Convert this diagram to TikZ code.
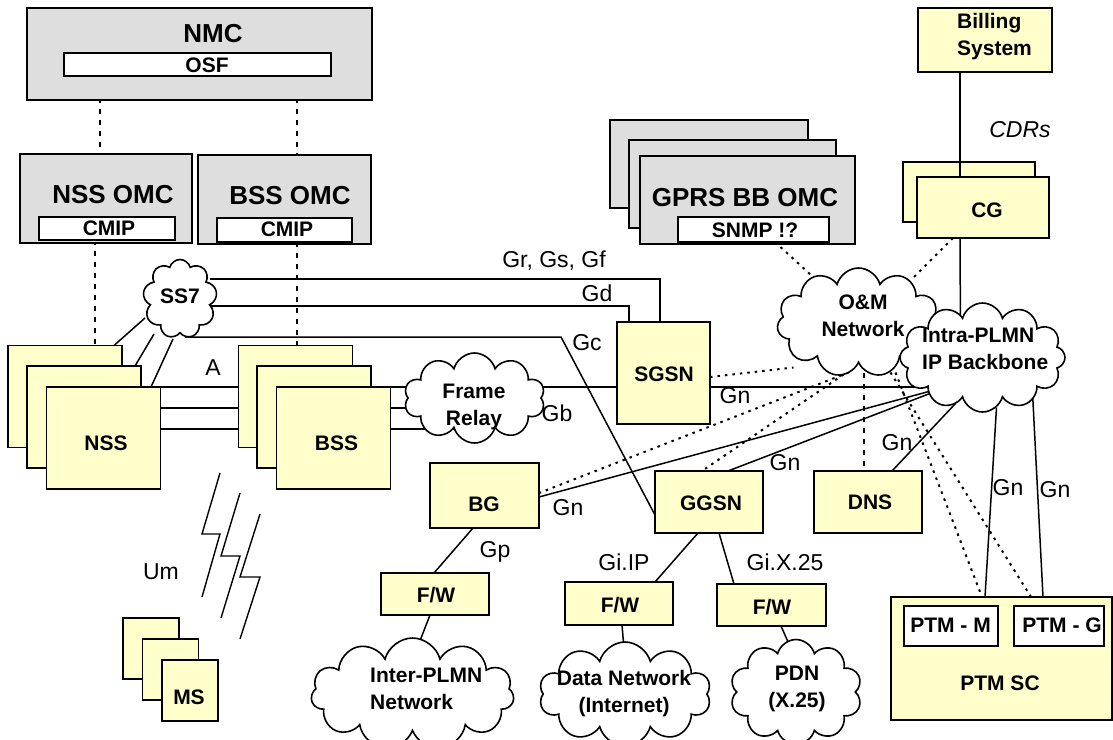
\documentclass[tikz,border=0pt]{standalone}
\usepackage{fontspec}
\setmainfont{Liberation Sans}
\usetikzlibrary{shapes.symbols,calc,backgrounds}
\definecolor{yel}{HTML}{FFFFCC}
\definecolor{gry}{HTML}{DEDEDE}
\begin{document}
\begin{tikzpicture}[x=1pt,y=-1pt,
  ybox/.style={draw,fill=yel,line width=1.9pt,inner sep=0pt,outer sep=0pt},
  gbox/.style={draw,fill=gry,line width=1.9pt,inner sep=0pt,outer sep=0pt},
  wbox/.style={draw,fill=white,line width=1.9pt,inner sep=0pt,outer sep=0pt},
  cld/.style={cloud,cloud puffs=11,cloud ignores aspect,draw,fill=white,line width=1.6pt,inner sep=0pt,outer sep=0pt},
  bt/.style={font=\fontsize{21}{27}\selectfont\bfseries,inner sep=0pt},
  ct/.style={font=\fontsize{21}{24}\selectfont\bfseries,inner sep=0pt},
  big/.style={font=\fontsize{26}{30}\selectfont\bfseries,inner sep=0pt},
  lb/.style={font=\fontsize{23}{27}\selectfont,inner sep=0pt},
  conn/.style={line width=1.5pt},
  dotl/.style={line width=2pt,dash pattern=on 2.5pt off 5pt},
  dashl/.style={line width=1.6pt,dash pattern=on 5pt off 6pt},
]
\useasboundingbox (0,0) rectangle (1113,739);
\begin{pgfonlayer}{background}
\fill[white] (0,0) rectangle (1113,739);
\end{pgfonlayer}

% ---------- management boxes ----------
\node[gbox,minimum width=345,minimum height=92] (nmc) at (199.5,54) {};
\node[big] (tnmc) at (213,34) {NMC};
\node[wbox,minimum width=267,minimum height=23] (osf) at (197.5,64.5) {};
\node[ct] (tosf) at (207,65) {OSF};

\node[gbox,minimum width=172,minimum height=89] (nssomc) at (106,198.5) {};
\node[big] (tnssomc) at (113,195) {NSS OMC};
\node[wbox,minimum width=136,minimum height=23] (cmip1) at (107,228.5) {};
\node[ct] (tcmip1) at (109,228) {CMIP};

\node[gbox,minimum width=173,minimum height=89] (bssomc) at (284.5,199.5) {};
\node[big] (tbssomc) at (290,196) {BSS OMC};
\node[wbox,minimum width=135,minimum height=24] (cmip2) at (284.5,230) {};
\node[ct] (tcmip2) at (287,229) {CMIP};

\node[gbox,minimum width=198,minimum height=88] (omc1) at (709,164) {};
\node[gbox,minimum width=207,minimum height=88] (omc2) at (732.5,184) {};
\node[gbox,minimum width=215,minimum height=88] (omc3) at (747.5,200) {};
\node[big] (tomc) at (745,198) {GPRS BB OMC};
\node[wbox,minimum width=151,minimum height=25] (snmp) at (753.5,229.5) {};
\node[ct] (tsnmp) at (755,230) {SNMP !?};

\node[ybox,minimum width=134,minimum height=64] (billing) at (985,40) {};
\node[bt,align=left,anchor=west] (tbilling) at (957,37) {Billing\\System};
\node[ybox,minimum width=132,minimum height=60] (cg1) at (969,192) {};
\node[ybox,minimum width=132,minimum height=61] (cg2) at (983,207.5) {};
\node[bt] (tcg) at (987,210) {CG};
\node[lb,font=\fontsize{23}{27}\selectfont\itshape] (tcdr) at (1020,130) {CDRs};

% ---------- NSS / BSS ----------
\node[ybox,minimum width=114,minimum height=102] (nss1) at (65,396.5) {};
\node[ybox,minimum width=114,minimum height=102] (nss2) at (84,417) {};
\node[ybox,minimum width=114,minimum height=102] (nss3) at (103.5,438) {};
\node[bt] (tnss) at (106,443) {NSS};

\node[ybox,minimum width=114,minimum height=102] (bss1) at (295.5,396.5) {};
\node[ybox,minimum width=114,minimum height=102] (bss2) at (314,417) {};
\node[ybox,minimum width=114,minimum height=102] (bss3) at (333.5,438) {};
\node[bt] (tbss) at (336.5,443) {BSS};

% ---------- GPRS nodes ----------
\node[ybox,minimum width=93,minimum height=102] (sgsn) at (663.5,373) {};
\node[bt] (tsgsn) at (664,374) {SGSN};
\node[ybox,minimum width=109,minimum height=65] (bg) at (484.5,495.5) {};
\node[bt] (tbg) at (484,504) {BG};
\node[ybox,minimum width=108,minimum height=62] (ggsn) at (709,502) {};
\node[bt] (tggsn) at (711,503) {GGSN};
\node[ybox,minimum width=108,minimum height=62] (dns) at (868,502) {};
\node[bt] (tdns) at (870,502) {DNS};

\node[ybox,minimum width=108,minimum height=42] (fw1) at (435,594) {};
\node[bt] (tfw1) at (436,595) {F/W};
\node[ybox,minimum width=108,minimum height=43] (fw2) at (619,603.5) {};
\node[bt] (tfw2) at (620,605) {F/W};
\node[ybox,minimum width=109,minimum height=42] (fw3) at (771.5,605) {};
\node[bt] (tfw3) at (772,607) {F/W};

\node[ybox,minimum width=221,minimum height=123] (ptmsc) at (1001.5,658.5) {};
\node[bt] (tptmsc) at (1000,683) {PTM SC};
\node[wbox,minimum width=94,minimum height=40] (ptmm) at (951,626) {};
\node[bt] (tptmm) at (950.5,625) {PTM - M};
\node[wbox,minimum width=90,minimum height=40] (ptmg) at (1059,626) {};
\node[bt] (tptmg) at (1062,625) {PTM - G};

\node[ybox,minimum width=56,minimum height=61] (ms1) at (151,648.5) {};
\node[ybox,minimum width=56,minimum height=61] (ms2) at (170.5,669.5) {};
\node[ybox,minimum width=56,minimum height=61] (ms3) at (190,690.5) {};
\node[bt] (tms) at (189,697) {MS};

% ---------- clouds ----------
\node[cld,cloud puffs=9,minimum width=74,minimum height=79] (ss7) at (180,299) {};
\node[bt] (tss7) at (180,296) {SS7};
\node[cld,cloud puffs=10,minimum width=141,minimum height=90] (fr) at (474.5,398) {};
\node[bt,align=center] (tfr) at (474,406.5) {Frame\\Relay};
\node[cld,minimum width=163,minimum height=109] (om) at (858.5,322.5) {};
\node[bt,align=center] (tom) at (863,316) {O\&M\\Network};
\node[cld,cloud puffs=12,minimum width=165,minimum height=109] (ip) at (982.5,357.5) {};
\node[bt,align=left,anchor=west] (tip) at (922,348.5) {Intra-PLMN\\IP Backbone};
\node[cld,minimum width=203,minimum height=112] (inter) at (412.5,694) {};
\node[bt,align=left,anchor=west] (tinter) at (370,688.5) {Inter-PLMN\\Network};
\node[cld,cloud puffs=10,minimum width=172,minimum height=104] (data) at (625,694) {};
\node[bt,align=center] (tdata) at (624,693.5) {Data Network\\(Internet)};
\node[cld,cloud puffs=10,minimum width=132,minimum height=105] (pdn) at (796,692) {};
\node[bt,align=center] (tpdn) at (797,689) {PDN\\(X.25)};

% ---------- interface labels ----------
\node[lb] (lgr) at (554,261) {Gr, Gs, Gf};
\node[lb] (lgd) at (597,293) {Gd};
\node[lb] (lgc) at (587,343) {Gc};
\node[lb] (la) at (213,368) {A};
\node[lb] (lgb) at (557,413) {Gb};
\node[lb] (lgn1) at (735,396) {Gn};
\node[lb] (lgn2) at (568,508) {Gn};
\node[lb] (lgn3) at (785,463) {Gn};
\node[lb] (lgn4) at (897,443) {Gn};
\node[lb] (lgn5) at (1008,488) {Gn};
\node[lb] (lgn6) at (1055,490) {Gn};
\node[lb] (lgp) at (495,552) {Gp};
\node[lb] (lgiip) at (624,562) {Gi.IP};
\node[lb] (lgix) at (785,562) {Gi.X.25};
\node[lb] (lum) at (161,572) {Um};

% ---------- radio link ----------
\draw[line width=1.4pt] (220,473) -- (202,534) -- (220,534) -- (202,597);
\draw[line width=1.4pt] (240,493) -- (221,556) -- (240,556) -- (221,618);
\draw[line width=1.4pt] (260,514) -- (240,577) -- (260,577) -- (240,639);

% Billing to CG (drawn over the rear CG box)
\draw[conn] (billing.south -| 960,0) -- (cg2.north -| 960,0);

% ---------- connectors ----------
\begin{pgfonlayer}{background}
% management dashed links
\draw[dashl] (osf.south -| 100,0) -- (nssomc.north -| 100,0);
\draw[dashl] (osf.south -| 297,0) -- (bssomc.north -| 297,0);
\draw[dashl] (cmip1.south -| 95,0) -- (nss1.north -| 95,0);
\draw[dashl] (cmip2.south -| 297,0) -- (bss1.north -| 297,0);
% SS7 to NSS
\draw[conn] ($(ss7)+(-35,19)$) -- (nss1.north -| 114,0);
\draw[conn] ($(ss7)+(-26,35)$) -- (nss2.north -| 135,0);
\draw[conn] ($(ss7)+(-7,40)$) -- (nss3.north -| 151,0);
% SS7 to SGSN / GGSN
\draw[conn] ($(ss7)+(30,-20)$) -| (sgsn.north -| 660,0);
\draw[conn] ($(ss7)+(30,7)$) -| (sgsn.north -| 629,0);
\draw[conn] ($(ss7)+(5,38)$) -- (561,337) -- (ggsn.west |- 0,515);
% A interface
\draw[conn] (nss3.north east) -- (bss1.west |- nss3.north);
\draw[conn] (nss3.east |- 0,408) -- (bss2.west |- 0,408);
\draw[conn] (nss3.east |- 0,429) -- (bss3.west |- 0,429);
% Gb
\draw[conn] (bss3.north east) -- (fr.center |- bss3.north);
\draw[conn] (bss3.east |- 0,408) -- (fr.center |- 0,408);
\draw[conn] (bss3.east |- 0,429) -- (fr.center |- 0,429);
\draw[conn] (fr.center |- 0,387) -- (sgsn.west |- 0,387);
% Gn links
\draw[conn] (sgsn.east |- 0,387) -- (ip.center |- 0,387);
\draw[conn] ($(ip)+(-50,33)$) -- (bg.east |- 0,497);
\draw[conn] ($(ip)+(-50,35)$) -- (ggsn.north -| 728,0);
\draw[conn] ($(ip)+(-27,46)$) -- (dns.north -| 892,0);
\draw[conn] ($(ip)+(14,50)$) -- (ptmsc.north -| 985,0);
\draw[conn] ($(ip)+(50,35)$) -- (ptmsc.north -| 1043,0);
\draw[conn] (cg2.south -| 960,0) -- ($(ip)+(-22,-20)$);
% Gp / Gi
\draw[conn] (bg.south -| 473,0) -- (fw1.north -| 434,0);
\draw[conn] (fw1.south -| 430,0) -- (inter.center |- 0,660);
\draw[conn] (ggsn.south -| 698,0) -- (fw2.north -| 655,0);
\draw[conn] (ggsn.south -| 719,0) -- (fw3.north -| 734,0);
\draw[conn] (fw2.south -| 622,0) -- (data.center |- 0,660);
\draw[conn] (fw3.south -| 781,0) -- (pdn.center |- 0,660);
% O&M dotted links
\draw[dotl] (snmp.south -| 775,0) -- ($(om)+(-35,-36)$);
\draw[dotl] (cg2.south -| 953,0) -- ($(om)+(55,-45)$);
\draw[dotl] (sgsn.east |- 0,377) -- ($(om)+(-65,45)$);
\draw[dotl] ($(om)+(-10,50)$) -- (bg.east |- 0,493);
\draw[dotl] ($(om)+(-15,52)$) -- (ggsn.north -| 702,0);
\draw[dashl] (om.south -| 864,0) -- (dns.north -| 864,0);
\draw[dotl] ($(om)+(37,50)$) -- (ptmsc.north -| 982,0);
\draw[dotl] ($(om)+(32,50)$) -- (ptmsc.north -| 1031,0);
\end{pgfonlayer}
\end{tikzpicture}
\end{document}
